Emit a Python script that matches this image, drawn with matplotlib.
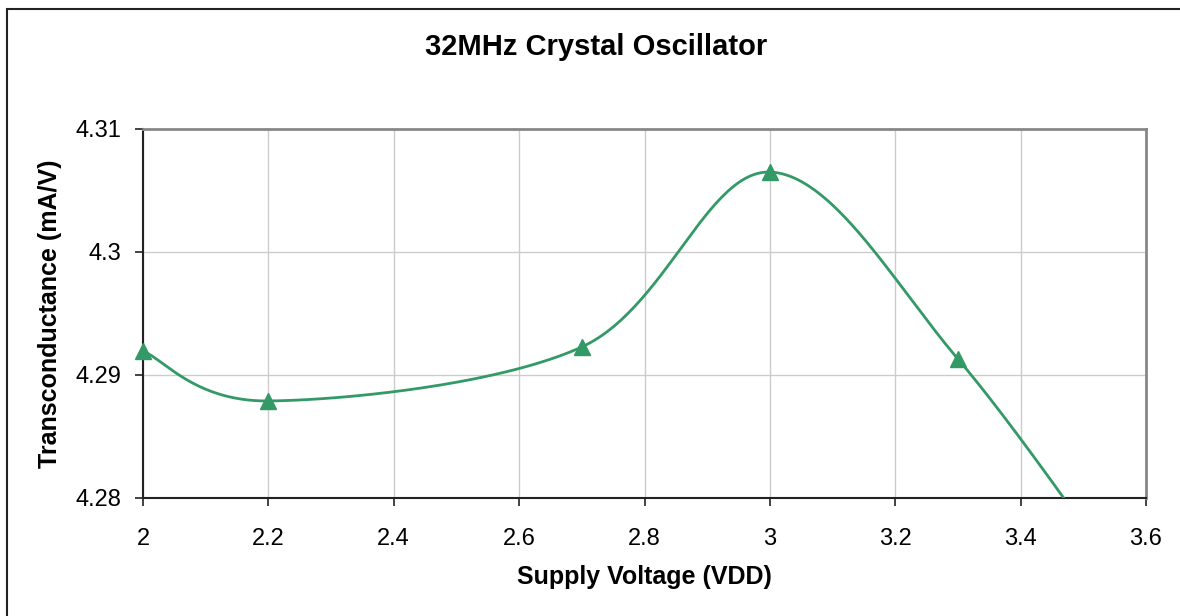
import matplotlib
matplotlib.use("Agg")
import matplotlib.pyplot as plt
from matplotlib.patches import Rectangle
import numpy as np

# data
vdd = [2.0, 2.2, 2.7, 3.0, 3.3, 3.6]
gm = [4.29195, 4.28789, 4.29228, 4.3065, 4.2913, 4.2706]

x_ticks = [2, 2.2, 2.4, 2.6, 2.8, 3, 3.2, 3.4, 3.6]
x_labels = ["2", "2.2", "2.4", "2.6", "2.8", "3", "3.2", "3.4", "3.6"]
y_ticks = [4.28, 4.29, 4.30, 4.31]
y_labels = ["4.28", "4.29", "4.3", "4.31"]

green = "#339966"


def smooth(xs, ys, n=60):
    # Excel style smoothed line: cubic Bezier with Catmull-Rom control points
    p = np.column_stack([xs, ys]).astype(float)
    out = []
    for i in range(len(p) - 1):
        p0 = p[i - 1] if i > 0 else p[i]
        p1 = p[i]
        p2 = p[i + 1]
        p3 = p[i + 2] if i + 2 < len(p) else p[i + 1]
        c1 = p1 + (p2 - p0) / 6.0
        c2 = p2 - (p3 - p1) / 6.0
        t = np.linspace(0, 1, n)[:, None]
        seg = ((1 - t) ** 3 * p1 + 3 * (1 - t) ** 2 * t * c1
               + 3 * (1 - t) * t ** 2 * c2 + t ** 3 * p2)
        out.append(seg if i == 0 else seg[1:])
    seg = np.vstack(out)
    return seg[:, 0], seg[:, 1]


plt.rcParams['font.family'] = ['Liberation Sans', 'DejaVu Sans']

fig = plt.figure(figsize=(11.8, 6.16), dpi=100)
fig.patches.append(Rectangle((7 / 1180, -0.1), 1.2, 1 - 9 / 616 + 0.1,
                             transform=fig.transFigure, fill=False,
                             edgecolor="#222222", linewidth=1.5))

ax = fig.add_axes([143 / 1180, 1 - 498 / 616, 1003 / 1180, 369 / 616])
ymin, ymax = 4.28, 4.31

sx, sy = smooth(vdd, gm)
ax.plot(sx, sy, color=green, linewidth=2, zorder=3)
# markers outside the value range are not shown (Excel clips them)
vx = np.array(vdd)
vy = np.array(gm)
keep = (vy >= ymin) & (vy <= ymax)
ax.plot(vx[keep], vy[keep], linestyle="none", marker="^", markersize=12,
        color=green, zorder=4, clip_on=False)

ax.set_xlim(2, 3.6)
ax.set_ylim(ymin, ymax)
ax.set_xticks(x_ticks)
ax.set_xticklabels(x_labels)
ax.set_yticks(y_ticks)
ax.set_yticklabels(y_labels)
ax.grid(True, color="#cccccc", linewidth=1)
ax.set_axisbelow(True)

ax.spines['top'].set_color("#888888")
ax.spines['right'].set_color("#888888")
ax.spines['top'].set_linewidth(2)
ax.spines['right'].set_linewidth(2)
ax.spines['left'].set_color("#222222")
ax.spines['bottom'].set_color("#222222")
ax.spines['left'].set_linewidth(1.5)
ax.spines['bottom'].set_linewidth(1.5)
ax.tick_params(axis='both', direction='out', length=6, width=1.2,
               labelsize=17, colors="#222222", labelcolor="black")
ax.tick_params(axis='x', pad=15.5)
ax.tick_params(axis='y', pad=9.5)

ax.set_xlabel("Supply Voltage (VDD)", fontsize=18, fontweight="bold",
              labelpad=11)
ax.set_ylabel("Transconductance (mA/V)", fontsize=18, fontweight="bold",
              labelpad=9.5)
fig.text(596 / 1180, 1 - 47 / 616, "32MHz Crystal Oscillator",
         fontsize=21, fontweight="bold", ha="center", va="center")

fig.savefig("out.png", dpi=100)
